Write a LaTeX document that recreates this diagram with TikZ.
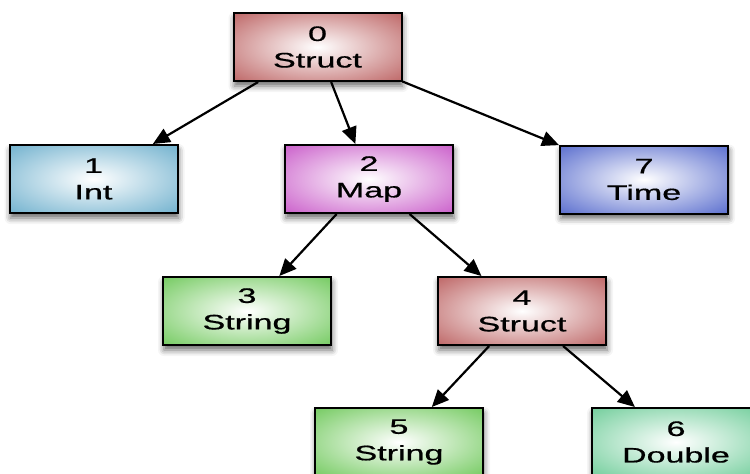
\documentclass[tikz,border=0pt]{standalone}
\usepackage{fontspec}
\usepackage{graphicx}
\setmainfont[FakeBold=0.6]{Liberation Sans}
\usetikzlibrary{arrows.meta,shadows.blur}

\definecolor{structred}{RGB}{182,84,84}
\definecolor{intblue}{RGB}{96,168,200}
\definecolor{mapmagenta}{RGB}{196,76,196}
\definecolor{timeblue}{RGB}{70,92,200}
\definecolor{stringgreen}{RGB}{100,196,78}
\definecolor{doublegreen}{RGB}{98,200,144}

% soft radial fill: white in the middle, full colour towards the border
\colorlet{boxfill}{white}
\pgfdeclareradialshading[boxfill]{softbox}{\pgfpoint{0bp}{0bp}}{%
  color(0bp)=(white); color(6bp)=(white!85!boxfill); color(40bp)=(boxfill); color(80bp)=(boxfill)}

\newcommand\wide[1]{\scalebox{1.62}[1]{#1}}

\tikzset{
  typebox/.style={
    /utils/exec={\colorlet{boxfill}{#1}},
    shading=softbox,
    draw=black, line width=2pt,
    minimum width=168pt, minimum height=68pt, inner sep=0pt,
    align=center, font=\fontsize{21}{26.5}\selectfont,
    blur shadow={shadow xshift=1pt, shadow yshift=-5pt,
                 shadow blur radius=6pt, shadow opacity=60}},
  link/.style={line width=2.2pt, -{Triangle[length=17pt,width=15pt]}}
}

\begin{document}
\begin{tikzpicture}[x=1pt,y=-1pt]
  \useasboundingbox (0,0) rectangle (750,474);

  \node[typebox=structred]   (n0) at (317.5,47)  {\wide{0}\\\wide{Struct}};
  \node[typebox=intblue]     (n1) at (93.5,179)  {\wide{1}\\\wide{Int}};
  \node[typebox=mapmagenta]  (n2) at (369,179)   {\wide{2}\\\wide{Map}};
  \node[typebox=timeblue]    (n7) at (644,179.5) {\wide{7}\\\wide{Time}};
  \node[typebox=stringgreen] (n3) at (247,311)   {\wide{3}\\\wide{String}};
  \node[typebox=structred]   (n4) at (522,311)   {\wide{4}\\\wide{Struct}};
  \node[typebox=stringgreen] (n5) at (399,442)   {\wide{5}\\\wide{String}};
  \node[typebox=doublegreen] (n6) at (676,442)   {\wide{6}\\\wide{Double}};

  \draw[link] (n0) -- (n1);
  \draw[link] (n0) -- (n2);
  \draw[link] (n0) -- (n7);
  \draw[link] (n2) -- (n3);
  \draw[link] (n2) -- (n4);
  \draw[link] (n4) -- (n5);
  \draw[link] (n4) -- (n6);
\end{tikzpicture}
\end{document}
